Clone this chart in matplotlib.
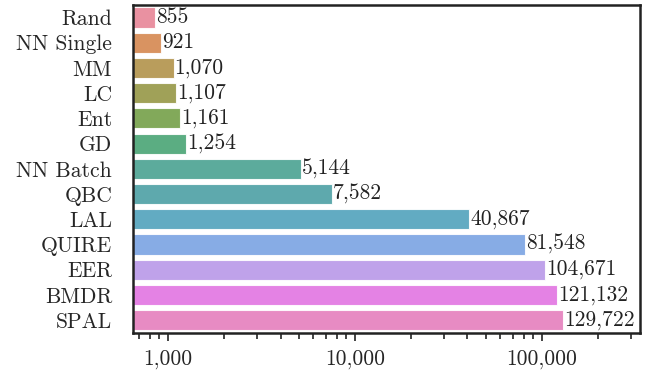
import matplotlib
matplotlib.use("Agg")
import matplotlib.pyplot as plt
import matplotlib.ticker as mticker
import seaborn as sns

methods = ["Rand", "NN Single", "MM", "LC", "Ent", "GD", "NN Batch",
           "QBC", "LAL", "QUIRE", "EER", "BMDR", "SPAL"]
times = [855, 921, 1070, 1107, 1161, 1254, 5144,
         7582, 40867, 81548, 104671, 121132, 129722]

sns.set_style("ticks")
plt.rcParams["font.family"] = ["cmr10", "DejaVu Serif"]
plt.rcParams["axes.formatter.use_mathtext"] = True

fig, ax = plt.subplots(figsize=(6.49, 3.76), dpi=100)
sns.barplot(x=times, y=methods, hue=methods, palette="husl", legend=False,
            ax=ax, edgecolor="white", linewidth=0.8, alpha=0.87)
ax.set_xscale("log")
ax.set_xlim(650, 335000)

for i, v in enumerate(times):
    ax.text(v * 1.01, i, f"{v:,}", va="center", ha="left", fontsize=15.5,
            color="#222222")

ax.xaxis.set_major_formatter(mticker.FuncFormatter(lambda v, p: f"{int(v):,}"))
ax.xaxis.set_minor_formatter(mticker.NullFormatter())
ax.tick_params(axis="x", which="major", labelsize=15.5, length=6, width=1.2,
               pad=6, color="#222222")
ax.tick_params(axis="x", which="minor", length=4, width=1.2, color="#222222")
ax.tick_params(axis="y", length=0, labelsize=15.5, pad=15)
for s in ax.spines.values():
    s.set_linewidth(1.8)
    s.set_color("#222222")
ax.set_xlabel("")
ax.set_ylabel("")

fig.subplots_adjust(left=0.205, right=0.986, top=0.987, bottom=0.115)
fig.savefig("out.png", dpi=100)
